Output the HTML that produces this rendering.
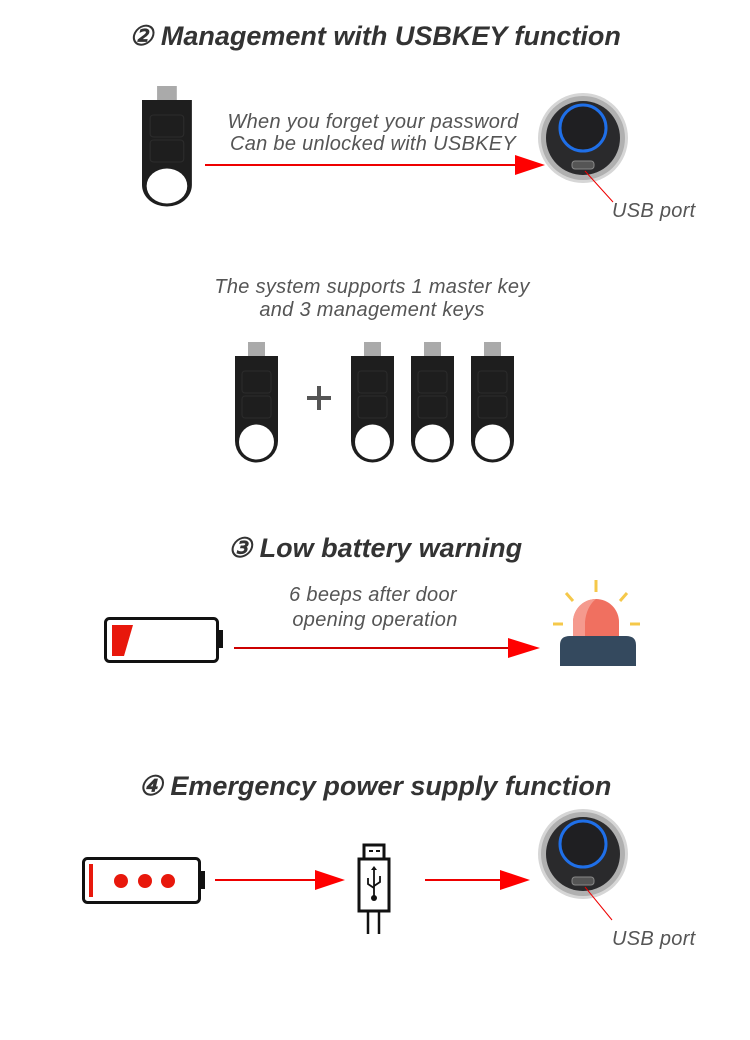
<!DOCTYPE html>
<html><head><meta charset="utf-8"><style>
html,body{margin:0;padding:0;background:#fff;}
svg{display:block;}
.t{font-family:"Liberation Sans",sans-serif;font-weight:bold;font-style:italic;fill:#333;font-size:27px;}
.s{font-family:"Liberation Sans",sans-serif;font-style:italic;fill:#555;font-size:20px;letter-spacing:0.3px;}
</style></head><body>
<svg width="750" height="1040" viewBox="0 0 750 1040" xmlns="http://www.w3.org/2000/svg">
<defs>
<g id="key">
<rect x="13" y="-14" width="17" height="15" fill="#aaa"/>
<path d="M0,0 H43 V85 A21.5,21.5 0 0 1 0,85 Z" fill="#1e1e1e"/>
<rect x="7" y="15" width="29" height="22" rx="3" fill="none" stroke="#2c2c2c"/>
<rect x="7" y="40" width="29" height="22" rx="3" fill="none" stroke="#2c2c2c"/>
<circle cx="21.5" cy="86" r="17.5" fill="#fff"/>
</g>
<g id="lock">
<circle cx="0" cy="0" r="45" fill="#d6d6d6"/>
<circle cx="0" cy="0" r="42" fill="#b0b0b0"/>
<circle cx="0" cy="0" r="37" fill="#2a2a2c"/>
<circle cx="0" cy="-10" r="23" fill="#1f1f22" stroke="#1f6fe8" stroke-width="3"/>
<rect x="-11" y="23" width="22" height="8" rx="3" fill="#555" stroke="#888"/>
</g>
</defs>

<text class="t" x="375" y="45" text-anchor="middle">② Management with USBKEY function</text>
<use href="#key" transform="translate(142,100) scale(1.16,1)"/>
<text class="s" x="373" y="128" text-anchor="middle">When you forget your password</text>
<text class="s" x="373" y="150" text-anchor="middle">Can be unlocked with USBKEY</text>
<line x1="205" y1="165" x2="518" y2="165" stroke="#e00" stroke-width="2"/>
<polygon points="515,155 545,165 515,175" fill="#f00"/>
<use href="#lock" transform="translate(583,138)"/>
<line x1="613" y1="202" x2="585" y2="171" stroke="#e00" stroke-width="1"/>
<text class="s" x="612" y="217">USB port</text>

<text class="s" x="372" y="293" text-anchor="middle">The system supports 1 master key</text>
<text class="s" x="372" y="316" text-anchor="middle">and 3 management keys</text>
<use href="#key" transform="translate(235,356)"/>
<rect x="307" y="396" width="24" height="4" fill="#555"/>
<rect x="317" y="386" width="4" height="24" fill="#555"/>
<use href="#key" transform="translate(351,356)"/>
<use href="#key" transform="translate(411,356)"/>
<use href="#key" transform="translate(471,356)"/>

<text class="t" x="375" y="557" text-anchor="middle">③ Low battery warning</text>
<text class="s" x="373" y="601" text-anchor="middle">6 beeps after door</text>
<text class="s" x="375" y="626" text-anchor="middle">opening operation</text>
<rect x="105.5" y="618.5" width="112" height="43" rx="4" fill="#fff" stroke="#111" stroke-width="3"/>
<rect x="217" y="630" width="6" height="18" fill="#111"/>
<path d="M112,625 H133 L124,656 H112 Z" fill="#e8180c"/>
<line x1="234" y1="648" x2="512" y2="648" stroke="#c00" stroke-width="2"/>
<polygon points="508,638 540,648 508,658" fill="#f00"/>
<g stroke="#f5c84a" stroke-width="3">
<line x1="596" y1="580" x2="596" y2="592"/>
<line x1="566" y1="593" x2="573" y2="601"/>
<line x1="627" y1="593" x2="620" y2="601"/>
<line x1="553" y1="624" x2="563" y2="624"/>
<line x1="630" y1="624" x2="640" y2="624"/>
</g>
<path d="M573,640 V622 A23,23 0 0 1 619,622 V640 Z" fill="#f07060"/>
<path d="M573,640 V622 A23,23 0 0 1 596,599 A20,30 0 0 0 585,622 V640 Z" fill="#f59a8e"/>
<path d="M560,666 V645 Q560,636 570,636 H626 Q636,636 636,645 V666 Z" fill="#34495e"/>

<text class="t" x="375" y="795" text-anchor="middle">④ Emergency power supply function</text>
<rect x="83.5" y="858.5" width="116" height="44" rx="4" fill="#fff" stroke="#111" stroke-width="3"/>
<rect x="199" y="871" width="6" height="18" fill="#111"/>
<rect x="89" y="864" width="4" height="33" fill="#e8180c"/>
<circle cx="121" cy="881" r="7" fill="#e8180c"/>
<circle cx="145" cy="881" r="7" fill="#e8180c"/>
<circle cx="168" cy="881" r="7" fill="#e8180c"/>
<line x1="215" y1="880" x2="318" y2="880" stroke="#e00" stroke-width="2"/>
<polygon points="315,870 345,880 315,890" fill="#f00"/>
<rect x="364" y="845" width="20" height="14" fill="#fff" stroke="#111" stroke-width="3"/>
<line x1="369" y1="851" x2="373" y2="851" stroke="#111" stroke-width="2"/>
<line x1="376" y1="851" x2="380" y2="851" stroke="#111" stroke-width="2"/>
<rect x="359" y="859" width="30" height="52" fill="#fff" stroke="#111" stroke-width="3"/>
<line x1="368" y1="911" x2="368" y2="934" stroke="#111" stroke-width="2.5"/>
<line x1="379" y1="911" x2="379" y2="934" stroke="#111" stroke-width="2.5"/>
<g stroke="#111" stroke-width="1.8" fill="none">
<line x1="374" y1="869" x2="374" y2="898"/>
<path d="M368,878 V884 L374,888"/>
<path d="M380,876 V882 L374,886"/>
</g>
<circle cx="374" cy="898" r="3" fill="#111"/>
<polygon points="371,870 377,870 374,866" fill="#111"/>
<line x1="425" y1="880" x2="503" y2="880" stroke="#e00" stroke-width="2"/>
<polygon points="500,870 530,880 500,890" fill="#f00"/>
<use href="#lock" transform="translate(583,854)"/>
<line x1="612" y1="920" x2="585" y2="887" stroke="#e00" stroke-width="1"/>
<text class="s" x="612" y="945">USB port</text>
</svg>
</body></html>
